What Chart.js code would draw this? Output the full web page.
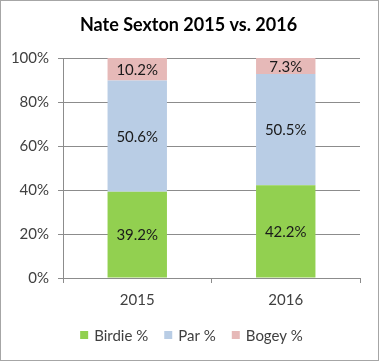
<!DOCTYPE html>
<html>
<head>
<meta charset="utf-8">
<script src="https://cdn.jsdelivr.net/npm/chart.js@4"></script>
<style>
  html,body{margin:0;padding:0;background:#fff;}
  #wrap{position:relative;width:379px;height:361px;box-sizing:border-box;border:1px solid #a6a6a6;}
  canvas{display:block;}
</style>
</head>
<body>
<div id="wrap"><canvas id="c" width="377" height="359"></canvas></div>
<script>
// ── data ──
const title  = 'Nate Sexton 2015 vs. 2016';
const years  = ['2015', '2016'];
const birdie = [39.2, 42.2];
const par    = [50.6, 50.5];
const bogey  = [10.2, 7.3];
const yTicks = [0, 20, 40, 60, 80, 100];

const FONT = 'Lato, "Open Sans", sans-serif';
const GRID = '#8c8c8c';
const TXT  = '#404040';

// labels in the middle of each segment
const segLabels = {
  id: 'segLabels',
  afterDatasetsDraw(chart) {
    const ctx = chart.ctx;
    ctx.save();
    ctx.font = '15px ' + FONT;
    ctx.fillStyle = '#1a1a1a';
    ctx.textAlign = 'center';
    ctx.textBaseline = 'middle';
    chart.data.datasets.forEach((ds, i) => {
      chart.getDatasetMeta(i).data.forEach((el, j) => {
        const p = el.getProps(['x', 'y', 'base'], true);
        ctx.fillText(ds.data[j].toFixed(1) + '%', p.x, (p.y + p.base) / 2 + 1);
      });
    });
    ctx.restore();
  }
};

// title + legend drawn by hand so they sit where the excel ones do
const frame = {
  id: 'frame',
  afterDraw(chart) {
    const ctx = chart.ctx;
    ctx.save();
    ctx.textBaseline = 'middle';
    ctx.font = 'bold 18px ' + FONT;
    ctx.fillStyle = '#000';
    ctx.textAlign = 'center';
    ctx.fillText(title, 187.5, 24);

    // legend row
    ctx.font = '15px ' + FONT;
    ctx.textAlign = 'left';
    const box = 8, gapIn = 6, gapOut = 16;
    const items = chart.data.datasets.map(d => ({ t: d.label, c: d.backgroundColor, w: ctx.measureText(d.label).width }));
    const total = items.reduce((s, it) => s + box + gapIn + it.w, 0) + gapOut * (items.length - 1);
    let x = 190.5 - total / 2;
    const y = 334;
    items.forEach(it => {
      ctx.fillStyle = it.c;
      ctx.fillRect(x, y - box / 2, box, box);
      ctx.fillStyle = TXT;
      ctx.fillText(it.t, x + box + gapIn, y + 1);
      x += box + gapIn + it.w + gapOut;
    });
    ctx.restore();
  }
};

new Chart(document.getElementById('c'), {
  type: 'bar',
  data: {
    labels: years,
    datasets: [
      { label: 'Birdie %', data: birdie, backgroundColor: '#92d050' },
      { label: 'Par %',    data: par,    backgroundColor: '#b9cde5' },
      { label: 'Bogey %',  data: bogey,  backgroundColor: '#e6b9b8' },
    ]
  },
  options: {
    responsive: false, animation: false,
    layout: { padding: { left: 0, right: 18, top: 57, bottom: 42 } },
    datasets: { bar: { barPercentage: 0.4, categoryPercentage: 1 } },
    plugins: {
      title: { display: false },
      legend: { display: false },
      tooltip: { enabled: false },
    },
    scales: {
      x: {
        stacked: true,
        afterFit: s => { s.height = 40; },
        grid: { drawOnChartArea: false, offset: true, tickLength: 5, color: GRID },
        border: { color: GRID },
        ticks: { color: TXT, padding: 8, font: { family: FONT, size: 15 } },
      },
      y: {
        stacked: true, min: 0, max: 100,
        afterBuildTicks: s => { s.ticks = yTicks.map(v => ({ value: v })); },
        afterFit: s => { s.width = 62; },
        grid: { color: GRID, tickLength: 5 },
        border: { color: GRID },
        ticks: { color: TXT, padding: 9, font: { family: FONT, size: 15 }, callback: v => v + '%' },
      }
    }
  },
  plugins: [segLabels, frame]
});
</script>
</body>
</html>
